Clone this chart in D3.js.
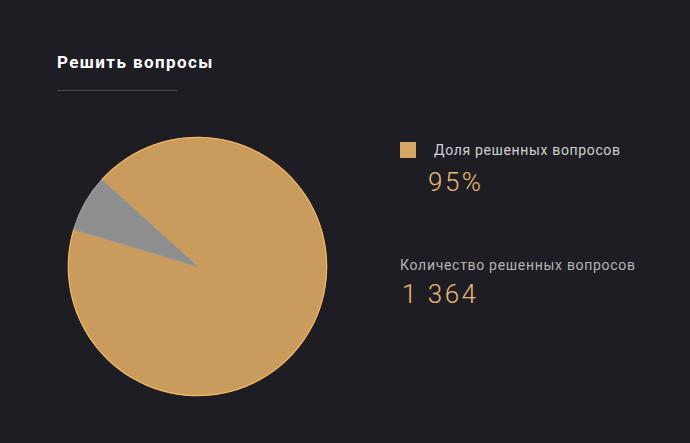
<!DOCTYPE html>
<html>
<head>
<meta charset="utf-8">
<script src="https://cdn.jsdelivr.net/npm/d3@7"></script>
<style>
  html, body { margin: 0; padding: 0; background: #1e1d23; }
  svg { display: block; font-family: Roboto, sans-serif; }
</style>
</head>
<body>
<svg id="chart" width="690" height="443"></svg>
<script>
const title = "Решить вопросы";
const categories = ["Решенные", "Нерешенные"];
const pieValues = [1364, 104];
const pieColors = ["#c99b5d", "#8e8e8e"];
const shareLabel = "Доля решенных вопросов";
const shareValue = "95%";
const countLabel = "Количество решенных вопросов";
const countValue = "1 364";

const svg = d3.select("#chart");
svg.append("rect").attr("width", 690).attr("height", 443).attr("fill", "#1e1d23");

svg.append("text").attr("x", 57).attr("y", 68)
  .attr("fill", "#ffffff").attr("font-size", 17).attr("font-weight", 700)
  .attr("letter-spacing", 1.4)
  .text(title);
svg.append("line").attr("x1", 57).attr("x2", 178).attr("y1", 90.5).attr("y2", 90.5)
  .attr("stroke", "#4a494f").attr("stroke-width", 1);

const cx = 197.5, cy = 266.5, r = 129;
const startA = -47.8 * Math.PI / 180;
const pie = d3.pie().sort(null).startAngle(startA).endAngle(startA + 2 * Math.PI);
const arcs = pie(pieValues);
const arc = d3.arc().innerRadius(0).outerRadius(r);
const g = svg.append("g").attr("transform", `translate(${cx},${cy})`);
g.selectAll("path.slice").data(arcs).enter().append("path")
  .attr("class", "slice")
  .attr("d", arc)
  .attr("fill", (d, i) => pieColors[i])
  .attr("stroke", (d, i) => i === 0 ? "#c99b5d" : "#9a9a9a")
  .attr("stroke-width", 1);
// outer rim highlight
const rim = d3.arc().innerRadius(r - 0.5).outerRadius(r + 0.8);
g.append("path").attr("d", rim(arcs[0])).attr("fill", "#f0b565");
g.append("path").attr("d", rim(arcs[1])).attr("fill", "#9a9a9a");

// legend
svg.append("rect").attr("x", 400).attr("y", 142).attr("width", 16).attr("height", 16)
  .attr("fill", "#d6a664");
svg.append("text").attr("x", 434).attr("y", 155)
  .attr("fill", "#d2d2d2").attr("font-size", 14).attr("letter-spacing", 0.65)
  .text(shareLabel);
svg.append("text").attr("x", 428).attr("y", 191)
  .attr("fill", "#e9b873").attr("font-size", 26).attr("font-weight", 300).attr("letter-spacing", 2.5)
  .text(shareValue);
svg.append("text").attr("x", 400).attr("y", 270)
  .attr("fill", "#b5b5b5").attr("font-size", 14).attr("letter-spacing", 0.7)
  .text(countLabel);
svg.append("text").attr("x", 402).attr("y", 303)
  .attr("fill", "#e9b873").attr("font-size", 26).attr("font-weight", 300).attr("letter-spacing", 2.5)
  .text(countValue);
</script>
</body>
</html>
